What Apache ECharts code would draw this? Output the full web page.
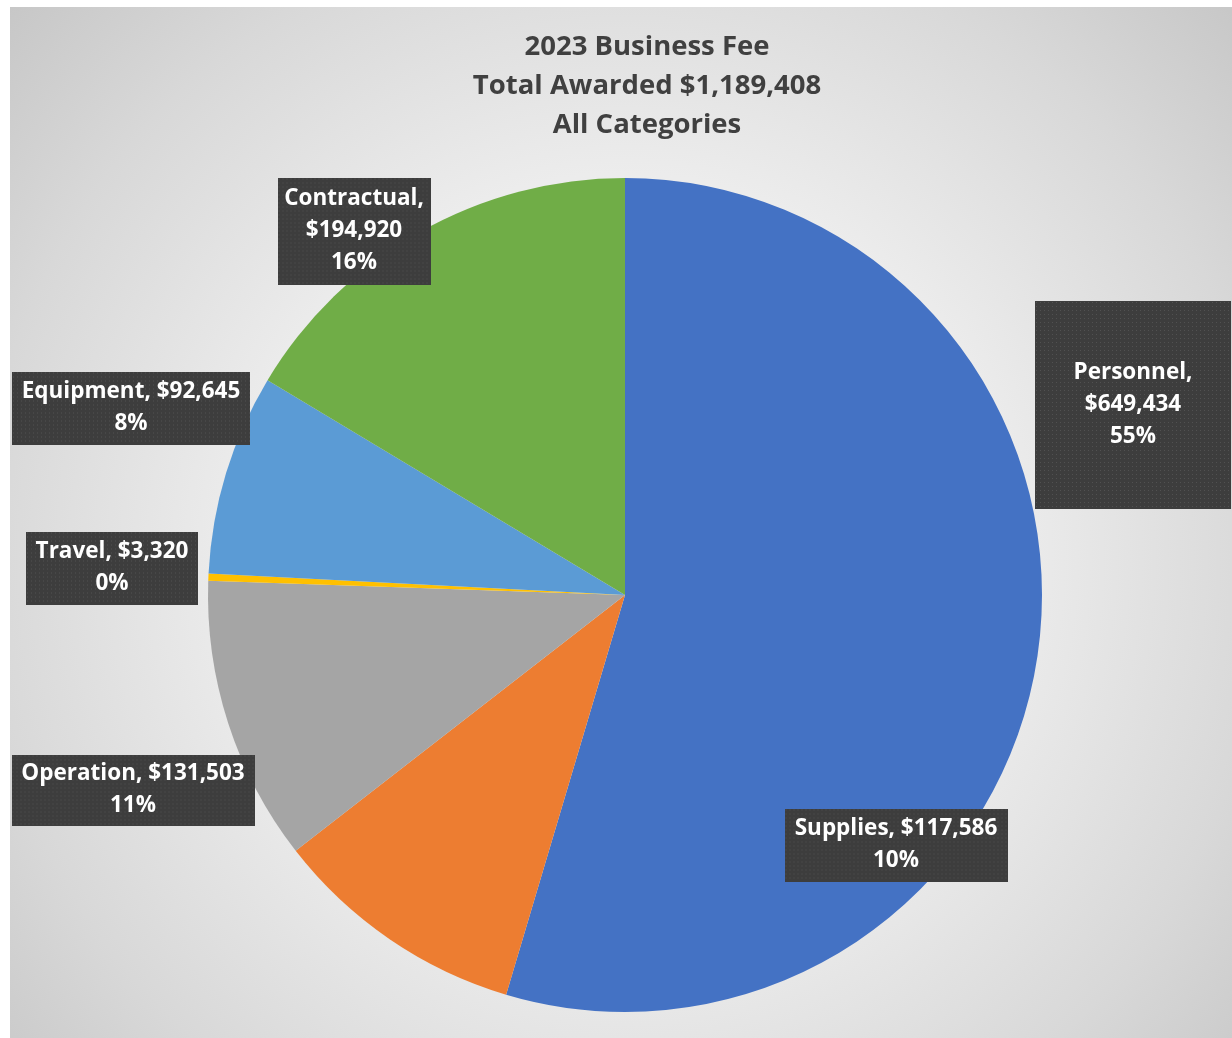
<!DOCTYPE html>
<html>
<head>
<meta charset="utf-8">
<title>2023 Business Fee</title>
<script src="https://cdn.jsdelivr.net/npm/echarts@6/dist/echarts.min.js"></script>
<style>
  html, body { margin: 0; padding: 0; background: #ffffff; }
  #chart { width: 1232px; height: 1038px; }
</style>
</head>
<body>
<div id="chart"></div>
<script>
// data
var categories = ["Personnel", "Supplies", "Operation", "Travel", "Equipment", "Contractual"];
var amounts = [649434, 117586, 131503, 3320, 92645, 194920];
var sliceColors = ["#4472C4", "#ED7D31", "#A5A5A5", "#FFC000", "#5B9BD5", "#70AD47"];
var titleLines = ["2023 Business Fee", "Total Awarded $1,189,408", "All Categories"];

// label boxes: center x, center y, box width, box height, name on its own line
var labelBoxes = [
  [1133, 405, 196, 208, true],
  [896, 845, 223, 73, false],
  [133, 790, 243, 71, false],
  [112, 568, 172, 73, false],
  [131, 408, 238, 73, false],
  [354, 231, 153, 107, true]
];

// dark dotted fill used behind the labels
function dotted(w, h) {
  var c = document.createElement("canvas");
  c.width = w;
  c.height = h;
  var ctx = c.getContext("2d");
  ctx.fillStyle = "#3d3d3d";
  ctx.fillRect(0, 0, w, h);
  ctx.fillStyle = "#515151";
  for (var y = 1; y < h; y += 4) {
    for (var x = 1; x < w; x += 4) {
      ctx.fillRect(x, y, 1, 1);
    }
  }
  return c;
}

var LINE_H = 32;
var pieData = categories.map(function (name, i) {
  var b = labelBoxes[i];
  var lines = b[4] ? 3 : 2;
  var padV = (b[3] - lines * LINE_H) / 2;
  return {
    name: name,
    value: amounts[i],
    itemStyle: { color: sliceColors[i] },
    label: {
      width: b[2] - 16,
      overflow: "none",
      padding: [padV + 3.5, 8, padV - 3.5, 8],
      backgroundColor: { image: dotted(b[2], b[3]) }
    }
  };
});

var chart = echarts.init(document.getElementById("chart"), null, { renderer: "canvas" });
chart.setOption({
  animation: false,
  graphic: [
    {
      type: "rect",
      z: -10,
      silent: true,
      shape: { x: 10, y: 7, width: 1222, height: 1031 },
      style: {
        fill: new echarts.graphic.RadialGradient(625, 560, 860, [
          { offset: 0, color: "#f6f6f6" },
          { offset: 0.45, color: "#ececec" },
          { offset: 0.75, color: "#d8d8d8" },
          { offset: 1, color: "#c4c4c4" }
        ], true)
      }
    },
    {
      type: "text",
      z: 10,
      style: {
        text: titleLines.join("\n"),
        x: 647,
        y: 28,
        align: "center",
        verticalAlign: "top",
        lineHeight: 39,
        fill: "#404040",
        font: "bold 27.5px 'Open Sans', sans-serif"
      }
    }
  ],
  series: [
    {
      type: "pie",
      center: [625, 595],
      radius: [0, 417],
      startAngle: 90,
      clockwise: true,
      avoidLabelOverlap: false,
      itemStyle: { borderWidth: 0 },
      labelLine: { show: false },
      label: {
        show: true,
        position: "inside",
        color: "#ffffff",
        fontFamily: "'Open Sans', sans-serif",
        fontWeight: "bold",
        fontSize: 22.5,
        lineHeight: LINE_H,
        align: "center",
        shadowColor: "rgba(0,0,0,0.55)",
        shadowBlur: 6,
        shadowOffsetX: 3,
        shadowOffsetY: 3,
        formatter: function (p) {
          var sep = labelBoxes[p.dataIndex][4] ? ",\n$" : ", $";
          return p.name + sep + p.value.toLocaleString("en-US") + "\n" + Math.round(p.percent) + "%";
        }
      },
      labelLayout: function (p) {
        var b = labelBoxes[p.dataIndex];
        return { x: b[0], y: b[1], align: "center", verticalAlign: "middle" };
      },
      emphasis: { disabled: true },
      data: pieData
    }
  ]
});
</script>
</body>
</html>
